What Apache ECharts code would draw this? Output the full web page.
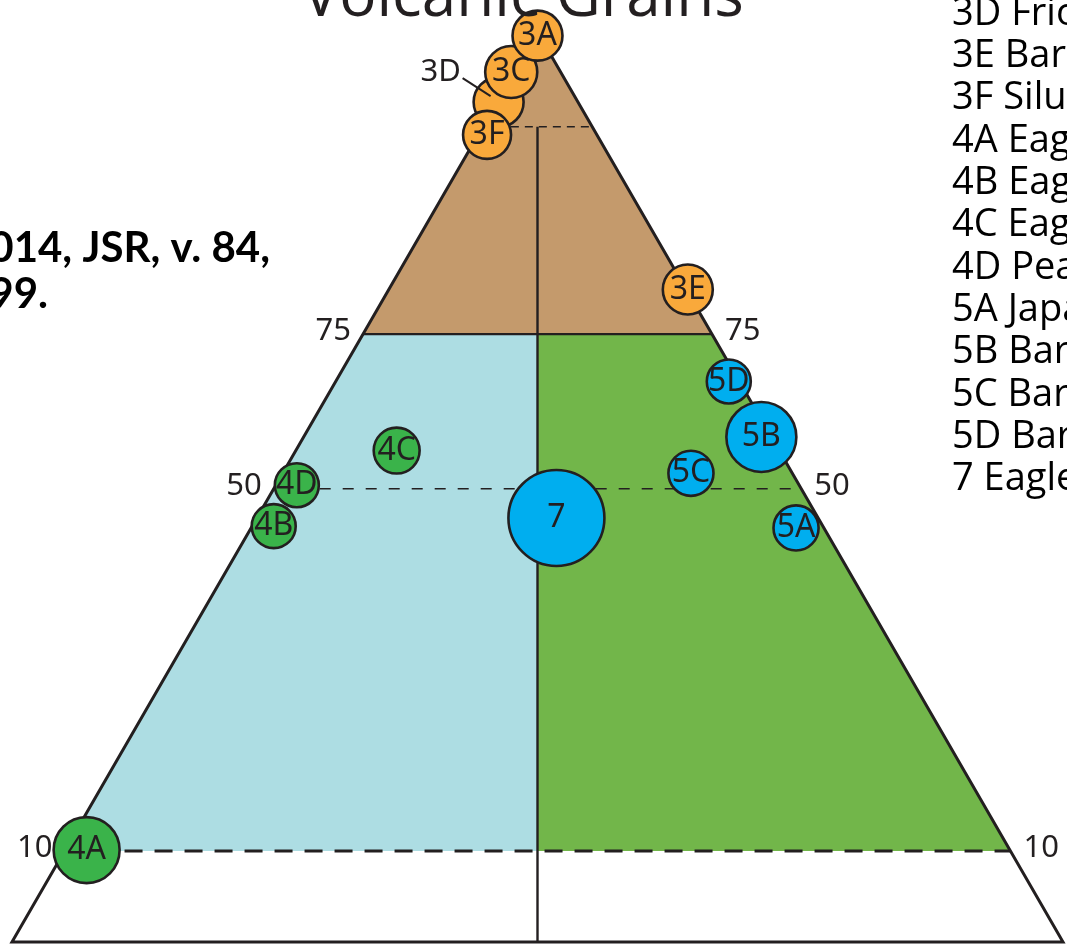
<!DOCTYPE html>
<html>
<head>
<meta charset="utf-8">
<script src="https://cdn.jsdelivr.net/npm/echarts@6/dist/echarts.min.js"></script>
<style>
  html, body { margin: 0; padding: 0; background: #ffffff; }
  #chart { width: 1067px; height: 951px; }
</style>
</head>
<body>
<div id="chart"></div>
<script>
// Sample identifiers, in drawing order (later ones sit on top)
const sampleIds = ['3D', '3C', '3F', '3A', '3E', '5D', '5B', '5C', '5A', '7', '4C', '4B', '4D', '4A'];
// Horizontal position across the base: 0 = left corner, 100 = right corner
const samplePosX = [46.3, 47.5, 45.2, 50.0, 64.3, 68.2, 71.3, 64.6, 74.6, 51.8, 36.6, 24.9, 27.1, 7.1];
// Height above the base: 0 = base, 100 = apex
const samplePosY = [92.3, 95.6, 88.7, 99.6, 71.7, 61.6, 55.5, 51.5, 45.5, 46.6, 54.0, 45.7, 50.2, 10.1];
// Relative bubble weight (proportional to bubble area)
const sampleWeight = [1.29, 1.40, 1.19, 1.29, 1.29, 1.00, 2.53, 1.05, 1.05, 4.76, 1.09, 1.00, 1.00, 2.25];
// Sample group (first digit of the identifier)
const sampleGroup = ['3', '3', '3', '3', '3', '5', '5', '5', '5', '7', '4', '4', '4', '4'];

// Division levels, as height above the base (0-100)
const levelTop = 89.6;    // short dashed line below the apex
const levelUpper = 66.8;  // solid line labelled 75
const levelMid = 49.8;    // dashed line labelled 50
const levelLower = 10.0;  // heavy dashed line labelled 10
const tickLabels = ['75', '50', '10'];
const tickLevels = [66.8, 49.8, 10.0];

// Sample list on the right
const legendLines = [
  '3D Frio', '3E Barnett', '3F Silurian', '4A Eagle Ford', '4B Eagle Ford',
  '4C Eagle Ford', '4D Pearsall', '5A Japan', '5B Barnett', '5C Barnett',
  '5D Barnett', '7 Eagle Ford'
];
const titleText = 'Volcanic Grains';
const sourceLines = ['2014, JSR, v. 84,', 'p. 1085-1099.'];

const INK = '#231F20';
const groupColor = { '3': '#F9A93B', '4': '#3AB34A', '5': '#00AEEF', '7': '#00AEEF' };
const regionColor = { upper: '#C49A6C', left: '#ADDDE3', right: '#72B64A' };
const labelFont = '"Noto Sans", "DejaVu Sans", sans-serif';

// x of the triangle's side at a given height (side -1 = left, +1 = right)
function edgeX(h, side) { return side < 0 ? h / 2 : 100 - h / 2; }

function renderFrame(params, api) {
  const P = (x, y) => api.coord([x, y]);
  const poly = (pts, fill) => ({
    type: 'polygon', shape: { points: pts.map(p => P(p[0], p[1])) },
    style: { fill: fill, stroke: null }
  });
  const seg = (a, b, w, dash) => {
    const p = P(a[0], a[1]), q = P(b[0], b[1]);
    return {
      type: 'line', shape: { x1: p[0], y1: p[1], x2: q[0], y2: q[1] },
      style: { stroke: INK, lineWidth: w, lineDash: dash || null, fill: null }
    };
  };
  const uL = edgeX(levelUpper, -1), uR = edgeX(levelUpper, 1);
  const lL = edgeX(levelLower, -1), lR = edgeX(levelLower, 1);
  return {
    type: 'group',
    children: [
      poly([[50, 100], [uR, levelUpper], [uL, levelUpper]], regionColor.upper),
      poly([[uL, levelUpper], [50, levelUpper], [50, levelLower], [lL, levelLower]], regionColor.left),
      poly([[50, levelUpper], [uR, levelUpper], [lR, levelLower], [50, levelLower]], regionColor.right),
      seg([edgeX(levelTop, -1), levelTop], [edgeX(levelTop, 1), levelTop], 1.5, [8, 6]),
      seg([edgeX(levelMid, -1), levelMid], [edgeX(levelMid, 1), levelMid], 1.5, [11, 12]),
      seg([lL, levelLower], [lR, levelLower], 3, [18, 12]),
      seg([uL, levelUpper], [uR, levelUpper], 2.4),
      seg([50, levelTop], [50, 0], 2.4),
      {
        type: 'polygon',
        shape: { points: [P(0, 0), P(100, 0), P(50, 100)] },
        style: { fill: null, stroke: INK, lineWidth: 3, lineJoin: 'miter' }
      }
    ]
  };
}

function renderTicks(params, api) {
  const h = api.value(0);
  const txt = tickLabels[params.dataIndex];
  const l = api.coord([edgeX(h, -1), h]);
  const r = api.coord([edgeX(h, 1), h]);
  const st = (align) => ({
    text: txt, fill: INK, font: '31px ' + labelFont,
    align: align, verticalAlign: 'middle'
  });
  return {
    type: 'group',
    children: [
      { type: 'text', x: l[0] - 12, y: l[1] - 3, style: st('right') },
      { type: 'text', x: r[0] + 13, y: r[1] - 3, style: st('left') }
    ]
  };
}

function renderCallout(params, api) {
  const c = api.coord([api.value(0), api.value(1)]);
  return {
    type: 'group',
    children: [
      {
        type: 'line',
        shape: { x1: c[0] - 36, y1: c[1] - 24, x2: c[0] - 8, y2: c[1] - 6 },
        style: { stroke: INK, lineWidth: 2 }
      },
      {
        type: 'text', x: c[0] - 58, y: c[1] - 30,
        style: { text: api.value(2), fill: INK, font: '31px ' + labelFont, align: 'center', verticalAlign: 'middle' }
      }
    ]
  };
}

const bubbleData = sampleIds.map((id, i) => ({
  name: id,
  value: [samplePosX[i], samplePosY[i], sampleWeight[i]],
  itemStyle: { color: groupColor[sampleGroup[i]] },
  label: { show: id !== '3D' }
}));

const calloutIndex = sampleIds.indexOf('3D');

const graphics = [
  {
    type: 'text', x: 523, y: -2, z: 10,
    style: { text: titleText, fill: INK, font: '62px "Open Sans", sans-serif', align: 'center', verticalAlign: 'middle' }
  },
  {
    type: 'text', x: 270, y: 248, z: 10,
    style: { text: sourceLines[0], fill: '#000', font: 'bold 42px Lato, sans-serif', align: 'right', verticalAlign: 'middle' }
  },
  {
    type: 'text', x: 48, y: 294, z: 10,
    style: { text: sourceLines[1], fill: '#000', font: 'bold 42px Lato, sans-serif', align: 'right', verticalAlign: 'middle' }
  }
];
legendLines.forEach((t, i) => {
  graphics.push({
    type: 'text', x: 952, y: 14 + 42.3 * i, z: 10,
    style: { text: t, fill: '#000', font: '38px "Open Sans", sans-serif', align: 'left', verticalAlign: 'middle' }
  });
});

const chart = echarts.init(document.getElementById('chart'), null, { renderer: 'canvas' });
chart.setOption({
  backgroundColor: '#ffffff',
  animation: false,
  grid: { left: 12, right: 4, top: 32, bottom: 9, containLabel: false },
  xAxis: { type: 'value', min: 0, max: 100, show: false },
  yAxis: { type: 'value', min: 0, max: 100, show: false },
  graphic: graphics,
  series: [
    {
      type: 'custom', name: 'frame', coordinateSystem: 'cartesian2d',
      renderItem: renderFrame, data: [[0, 0]], clip: false, silent: true, z: 1
    },
    {
      type: 'custom', name: 'ticks', coordinateSystem: 'cartesian2d',
      renderItem: renderTicks, data: tickLevels.map(h => [h]), clip: false, silent: true, z: 2
    },
    {
      type: 'scatter', name: 'samples', z: 3,
      data: bubbleData,
      symbol: 'circle',
      symbolSize: v => 44 * Math.sqrt(v[2]),
      itemStyle: { borderColor: INK, borderWidth: 2.6, opacity: 1 },
      label: {
        position: 'inside', formatter: '{b}', color: INK,
        fontSize: 32, fontFamily: labelFont
      },
      emphasis: { disabled: true }
    },
    {
      type: 'custom', name: 'callout', coordinateSystem: 'cartesian2d',
      renderItem: renderCallout,
      data: [[samplePosX[calloutIndex], samplePosY[calloutIndex], sampleIds[calloutIndex]]],
      clip: false, silent: true, z: 4
    }
  ]
});
</script>
</body>
</html>
